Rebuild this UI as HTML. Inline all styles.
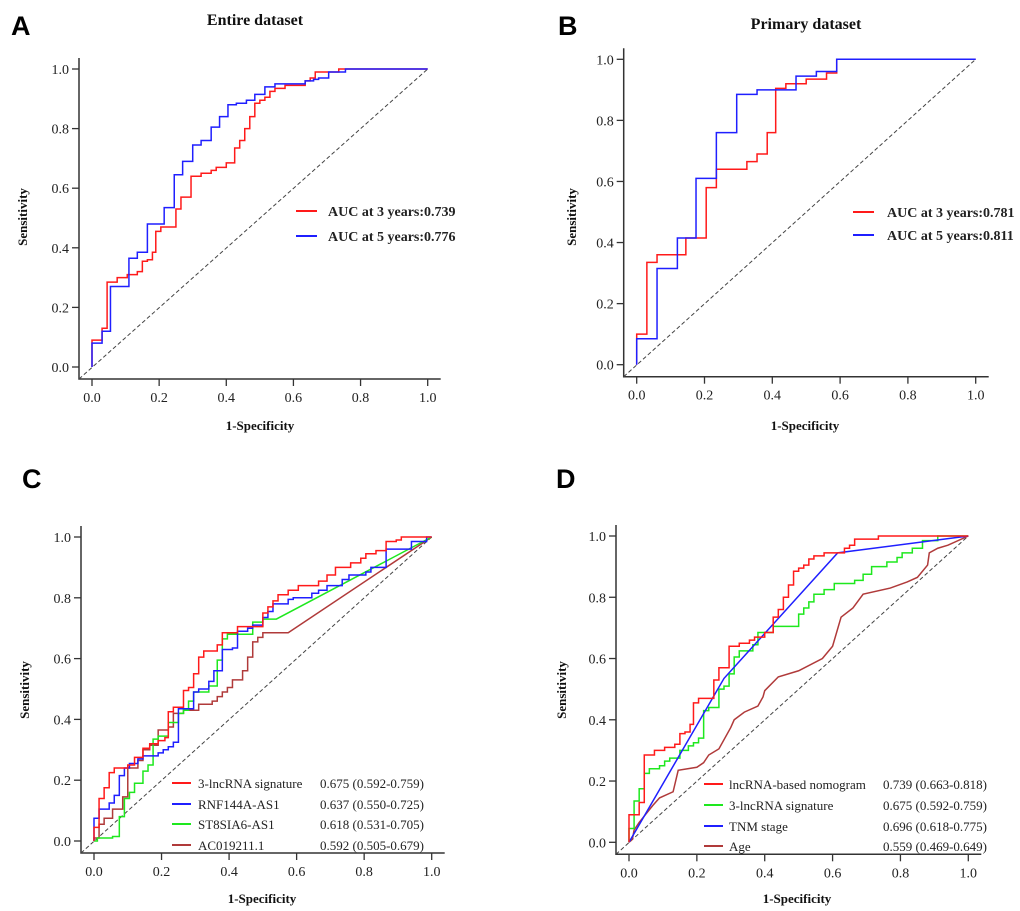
<!DOCTYPE html>
<html><head><meta charset="utf-8"><style>
html,body{margin:0;padding:0;background:#fff;}
svg{display:block;}
.tick{font-family:"Liberation Serif",serif;font-size:14px;fill:#222;}
.atitle{font-family:"Liberation Serif",serif;font-size:13px;font-weight:bold;fill:#111;}
.ptitle{font-family:"Liberation Serif",serif;font-size:16px;font-weight:bold;fill:#111;}
.letter{font-family:"Liberation Sans",sans-serif;font-size:27px;font-weight:bold;fill:#000;}
.leg{font-family:"Liberation Serif",serif;font-size:13px;fill:#222;}
.legb{font-family:"Liberation Serif",serif;font-size:14px;font-weight:bold;fill:#222;}
</style></head><body>
<svg id="fig" width="1020" height="911" viewBox="0 0 1020 911" xmlns="http://www.w3.org/2000/svg"></svg>
<script>
// ---- data ----
const ticks = [0, 0.2, 0.4, 0.6, 0.8, 1.0];
const tickLabels = ["0.0", "0.2", "0.4", "0.6", "0.8", "1.0"];

// Panel A (step corners: at x the curve rises to y)
const aRedX = [0,0.03,0.045,0.075,0.105,0.135,0.15,0.165,0.18,0.19,0.205,0.25,0.265,0.295,0.325,0.355,0.37,0.4,0.425,0.44,0.455,0.47,0.485,0.5,0.515,0.53,0.545,0.575,0.635,0.65,0.665,0.735,1];
const aRedY = [0.09,0.13,0.285,0.3,0.31,0.32,0.355,0.36,0.385,0.455,0.47,0.53,0.57,0.64,0.65,0.66,0.67,0.685,0.735,0.76,0.8,0.84,0.885,0.895,0.905,0.925,0.935,0.945,0.96,0.97,0.99,1,1];
const aBlueX = [0,0.03,0.055,0.11,0.135,0.165,0.215,0.245,0.27,0.3,0.325,0.355,0.38,0.405,0.43,0.46,0.485,0.515,0.545,0.635,0.66,0.675,0.705,0.755,1];
const aBlueY = [0.08,0.12,0.27,0.365,0.385,0.48,0.535,0.645,0.69,0.745,0.76,0.805,0.84,0.88,0.885,0.895,0.915,0.94,0.95,0.96,0.965,0.97,0.99,1,1];
const aLegend = ["AUC at 3 years:0.739", "AUC at 5 years:0.776"];

// Panel B
const bRedX = [0,0.03,0.06,0.145,0.205,0.235,0.325,0.355,0.385,0.41,0.44,0.5,0.56,0.59,1];
const bRedY = [0.1,0.335,0.36,0.415,0.58,0.64,0.665,0.69,0.76,0.905,0.92,0.935,0.955,1,1];
const bBlueX = [0,0.06,0.12,0.175,0.235,0.295,0.355,0.47,0.53,0.59,1];
const bBlueY = [0.085,0.315,0.415,0.61,0.76,0.885,0.9,0.945,0.96,1,1];
const bLegend = ["AUC at 3 years:0.781", "AUC at 5 years:0.811"];

// Panel C
const cRedX = [0,0.015,0.03,0.045,0.06,0.1,0.12,0.145,0.165,0.19,0.21,0.22,0.235,0.265,0.28,0.295,0.31,0.325,0.365,0.38,0.425,0.5,0.515,0.53,0.545,0.575,0.605,0.665,0.69,0.715,0.76,0.79,0.805,0.835,0.865,0.895,0.91,1];
const cRedY = [0.045,0.14,0.175,0.225,0.24,0.25,0.275,0.305,0.32,0.33,0.34,0.425,0.44,0.495,0.505,0.55,0.605,0.625,0.645,0.685,0.705,0.75,0.77,0.79,0.81,0.825,0.84,0.855,0.875,0.9,0.915,0.93,0.945,0.955,0.985,0.99,1,1];
const cBlueX = [0,0.015,0.045,0.06,0.075,0.09,0.105,0.13,0.145,0.19,0.205,0.22,0.235,0.25,0.295,0.31,0.34,0.355,0.38,0.41,0.425,0.455,0.47,0.5,0.515,0.53,0.575,0.59,0.645,0.665,0.69,0.735,0.755,0.805,0.82,0.865,0.94,0.985,1];
const cBlueY = [0.075,0.105,0.125,0.15,0.215,0.24,0.255,0.27,0.28,0.29,0.3,0.31,0.325,0.435,0.49,0.5,0.525,0.56,0.63,0.635,0.69,0.7,0.71,0.735,0.755,0.78,0.795,0.8,0.815,0.825,0.84,0.86,0.875,0.885,0.9,0.96,0.985,1,1];
const cGreenX = [0,0.01,0.055,0.075,0.09,0.105,0.12,0.145,0.16,0.175,0.19,0.22,0.25,0.265,0.28,0.295,0.34,0.365,0.38,0.395,0.47,0.5,0.54,1];
const cGreenY = [0,0.01,0.015,0.08,0.14,0.16,0.19,0.23,0.25,0.335,0.345,0.39,0.42,0.43,0.46,0.49,0.51,0.595,0.665,0.68,0.72,0.73,0.73,1];
const cBrownX = [0,0.015,0.03,0.055,0.085,0.1,0.13,0.145,0.165,0.19,0.22,0.235,0.265,0.31,0.35,0.365,0.38,0.395,0.41,0.44,0.455,0.47,0.485,0.5,0.575,1];
const cBrownY = [0.01,0.055,0.075,0.105,0.145,0.24,0.265,0.3,0.315,0.365,0.375,0.42,0.43,0.45,0.46,0.475,0.49,0.505,0.53,0.56,0.605,0.655,0.67,0.685,0.685,1];
const cNames = ["3-lncRNA signature", "RNF144A-AS1", "ST8SIA6-AS1", "AC019211.1"];
const cValues = ["0.675 (0.592-0.759)", "0.637 (0.550-0.725)", "0.618 (0.531-0.705)", "0.592 (0.505-0.679)"];

// Panel D
const dRedX = [0,0.03,0.045,0.075,0.105,0.135,0.15,0.165,0.18,0.19,0.205,0.25,0.265,0.295,0.325,0.355,0.37,0.4,0.425,0.44,0.455,0.47,0.485,0.5,0.515,0.53,0.545,0.575,0.635,0.65,0.665,0.735,1];
const dRedY = [0.09,0.13,0.285,0.3,0.31,0.32,0.355,0.36,0.385,0.455,0.47,0.53,0.57,0.64,0.65,0.66,0.67,0.685,0.735,0.76,0.8,0.84,0.885,0.895,0.905,0.925,0.935,0.945,0.96,0.97,0.99,1,1];
const dGreenX = [0,0.015,0.03,0.045,0.06,0.09,0.105,0.12,0.15,0.175,0.19,0.205,0.22,0.235,0.265,0.28,0.295,0.31,0.325,0.365,0.38,0.425,0.5,0.515,0.53,0.545,0.575,0.605,0.665,0.69,0.715,0.76,0.79,0.805,0.835,0.865,0.91,1];
const dGreenY = [0.045,0.135,0.175,0.225,0.24,0.25,0.265,0.275,0.3,0.315,0.325,0.34,0.43,0.44,0.5,0.51,0.55,0.605,0.625,0.645,0.685,0.705,0.745,0.765,0.785,0.81,0.825,0.845,0.855,0.875,0.9,0.915,0.93,0.945,0.96,0.985,1,1];
const dTnmX = [0, 0.28, 0.615, 1];
const dTnmY = [0, 0.535, 0.945, 1];
const dAgeX = [0,0.01,0.015,0.03,0.07,0.09,0.13,0.145,0.2,0.22,0.235,0.265,0.3,0.31,0.34,0.38,0.395,0.4,0.44,0.5,0.57,0.6,0.625,0.66,0.69,0.77,0.82,0.85,0.88,0.885,0.91,0.94,1];
const dAgeY = [0,0.01,0.04,0.065,0.12,0.145,0.165,0.235,0.245,0.26,0.285,0.305,0.375,0.4,0.425,0.445,0.475,0.495,0.54,0.56,0.6,0.64,0.735,0.765,0.81,0.83,0.85,0.865,0.905,0.945,0.96,0.97,1];
const dNames = ["lncRNA-based nomogram", "3-lncRNA signature", "TNM stage", "Age"];
const dValues = ["0.739 (0.663-0.818)", "0.675 (0.592-0.759)", "0.696 (0.618-0.775)", "0.559 (0.469-0.649)"];

// ---- drawing ----
const NS = "http://www.w3.org/2000/svg";
const fig = document.getElementById("fig");
const RED = "#ff1a1a", BLUE = "#1f1fff", GREEN = "#1ee81e", BROWN = "#b03a3a";

function mk(tag, attrs, parent) {
  const e = document.createElementNS(NS, tag);
  for (const k in attrs) e.setAttribute(k, attrs[k]);
  (parent || fig).appendChild(e);
  return e;
}

function panel(p) {
  const g = mk("g", {});
  
  
  const sx = v => p.x0 + v * (p.x1 - p.x0);
  const sy = v => p.y0 - v * (p.y0 - p.y1);
  // axes
  const ax = mk("path", {d: `M${p.x0 - 13},${p.y1 - 11} V${p.y0 + 12} H${p.x1 + 13}`, fill: "none", stroke: "#333", "stroke-width": 1.5}, g);
  
  
  ticks.forEach((t, i) => {
    const ty = sy(t), tx = sx(t);
    mk("line", {x1: p.x0 - 20, x2: p.x0 - 13, y1: ty, y2: ty, stroke: "#333", "stroke-width": 1.3}, g);
    const yl = mk("text", {x: p.x0 - 23, y: ty + 5, "text-anchor": "end", class: "tick"}, g);
    yl.textContent = tickLabels[i];
    
    
    mk("line", {x1: tx, x2: tx, y1: p.y0 + 12, y2: p.y0 + 19, stroke: "#333", "stroke-width": 1.3}, g);
    const xl = mk("text", {x: tx, y: p.y0 + 35, "text-anchor": "middle", class: "tick"}, g);
    xl.textContent = tickLabels[i];
    
    
  });
  // diagonal
  const dg = mk("line", {x1: p.x0 - 13, y1: p.y0 + 12, x2: sx(1), y2: sy(1), stroke: "#444", "stroke-width": 1, "stroke-dasharray": "4,2.5"}, g);
  
  
  // series
  p.series.forEach(s => {
    let d = `M${sx(0)},${sy(0)}`;
    const n = Math.min(s.x.length, s.y.length);
    if (s.kind === "line") {
      d = `M${sx(s.x[0])},${sy(s.y[0])}`;
      for (let i = 1; i < n; i++) d += ` L${sx(s.x[i])},${sy(s.y[i])}`;
    } else {
      for (let i = 0; i < n; i++) {
        if (s.tail && i === n - 1) d += ` L${sx(s.x[i])},${sy(s.y[i])}`;
        else d += ` H${sx(s.x[i])} V${sy(s.y[i])}`;
      }
    }
    const path = mk("path", {d: d, fill: "none", stroke: s.color, "stroke-width": 1.5, "stroke-linejoin": "miter"}, g);
    
    
  });
  // titles
  const xt = mk("text", {x: p.xtx, y: p.xty, "text-anchor": "middle", class: "atitle"}, g);
  xt.textContent = "1-Specificity";
  
  
  const yt = mk("text", {x: 0, y: 0, "text-anchor": "middle", class: "atitle", transform: `translate(${p.ytx},${p.yty}) rotate(-90)`}, g);
  yt.textContent = "Sensitivity";
  
  
  const lt = mk("text", {x: p.lx, y: p.ly, class: "letter"}, g);
  lt.textContent = p.letter;
  
  
  if (p.title) {
    const tt = mk("text", {x: p.tx, y: p.ty, "text-anchor": "middle", class: "ptitle"}, g);
    tt.textContent = p.title;
    
    
  }
  // legend
  p.legend.forEach((L, i) => {
    const ly = p.legY[i];
    const le = mk("g", {}, g);
    
    
    mk("line", {x1: p.legX, x2: p.legX + p.legW, y1: ly, y2: ly, stroke: L.color, "stroke-width": 2}, le);
    const t = mk("text", {x: p.legTX, y: ly + 5, class: p.legClass}, le);
    t.textContent = L.label;
    if (L.value) {
      const v = mk("text", {x: p.legVX, y: ly + 5, class: p.legClass}, le);
      v.textContent = L.value;
    }
  });
}

panel({name: "panel-a-entire-dataset", letter: "A", lx: 11, ly: 35, title: "Entire dataset", tx: 255, ty: 25,
  x0: 92, x1: 427.7, y0: 367, y1: 69, xtx: 260, xty: 430, ytx: 27, yty: 217,
  series: [{x: aRedX, y: aRedY, color: RED, dn: "roc-3-years"}, {x: aBlueX, y: aBlueY, color: BLUE, dn: "roc-5-years"}],
  legend: [{label: aLegend[0], color: RED}, {label: aLegend[1], color: BLUE}],
  legY: [211, 236], legX: 296, legW: 21, legTX: 328, legClass: "legb"});

panel({name: "panel-b-primary-dataset", letter: "B", lx: 558, ly: 35, title: "Primary dataset", tx: 806, ty: 29,
  x0: 636.7, x1: 975.7, y0: 364.7, y1: 59.3, xtx: 805, xty: 430, ytx: 576, yty: 217,
  series: [{x: bRedX, y: bRedY, color: RED, dn: "roc-3-years"}, {x: bBlueX, y: bBlueY, color: BLUE, dn: "roc-5-years"}],
  legend: [{label: bLegend[0], color: RED}, {label: bLegend[1], color: BLUE}],
  legY: [212, 235], legX: 853, legW: 21, legTX: 887, legClass: "legb"});

panel({name: "panel-c-lncrna-comparison", letter: "C", lx: 22, ly: 488,
  x0: 94, x1: 431.7, y0: 841, y1: 537, xtx: 262, xty: 903, ytx: 29, yty: 690,
  series: [{x: cBrownX, y: cBrownY, color: BROWN, dn: "roc-ac019211", tail: true},
           {x: cGreenX, y: cGreenY, color: GREEN, dn: "roc-st8sia6-as1", tail: true},
           {x: cBlueX, y: cBlueY, color: BLUE, dn: "roc-rnf144a-as1"},
           {x: cRedX, y: cRedY, color: RED, dn: "roc-3-lncrna-signature"}],
  legend: cNames.map((n, i) => ({label: n, value: cValues[i], color: [RED, BLUE, GREEN, BROWN][i]})),
  legY: [783, 804, 824, 845], legX: 172, legW: 19, legTX: 198, legVX: 320, legClass: "leg"});

panel({name: "panel-d-nomogram-comparison", letter: "D", lx: 556, ly: 488,
  x0: 629, x1: 968.3, y0: 842.3, y1: 536, xtx: 797, xty: 903, ytx: 566, yty: 690,
  series: [{x: dAgeX, y: dAgeY, color: BROWN, dn: "roc-age", kind: "line"},
           {x: dGreenX, y: dGreenY, color: GREEN, dn: "roc-3-lncrna-signature"},
           {x: dTnmX, y: dTnmY, color: BLUE, dn: "roc-tnm-stage", kind: "line"},
           {x: dRedX, y: dRedY, color: RED, dn: "roc-nomogram"}],
  legend: dNames.map((n, i) => ({label: n, value: dValues[i], color: [RED, GREEN, BLUE, BROWN][i]})),
  legY: [784, 805, 826, 846], legX: 704, legW: 19, legTX: 729, legVX: 883, legClass: "leg"});
</script>
</body></html>
